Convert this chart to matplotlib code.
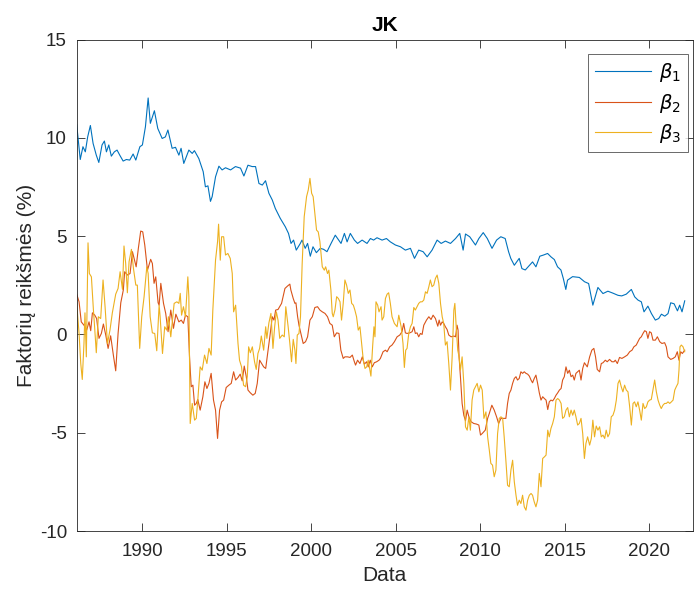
import numpy as np
import matplotlib
import matplotlib.pyplot as plt

matplotlib.use("Agg")

# beta_1
b1_t = [1986.11, 1986.32, 1986.48, 1986.62, 1986.76, 1986.92, 1987.08, 1987.27, 1987.42, 1987.61,
        1987.75, 1987.87, 1988.01, 1988.16, 1988.34, 1988.50, 1988.66, 1988.86, 1989.05, 1989.25,
        1989.45, 1989.61, 1989.85, 1990.00, 1990.18, 1990.34, 1990.47, 1990.71, 1990.91, 1991.17,
        1991.36, 1991.51, 1991.76, 1991.96, 1992.16, 1992.29, 1992.45, 1992.75, 1992.95, 1993.08,
        1993.34, 1993.60, 1993.73, 1993.88, 1994.03, 1994.13, 1994.33, 1994.53, 1994.72, 1994.92,
        1995.22, 1995.51, 1995.81, 1996.01, 1996.25, 1996.50, 1996.70, 1996.90, 1997.10, 1997.29,
        1997.49, 1997.69, 1997.87, 1998.16, 1998.46, 1998.65, 1998.80, 1998.95, 1999.11, 1999.35,
        1999.45, 1999.64, 1999.78, 1999.94, 2000.10, 2000.30, 2000.53, 2000.73, 2000.93, 2001.17,
        2001.42, 2001.62, 2001.76, 2001.96, 2002.12, 2002.31, 2002.55, 2002.74, 2003.01, 2003.30,
        2003.50, 2003.69, 2003.89, 2004.19, 2004.45, 2004.68, 2004.98, 2005.28, 2005.57, 2005.87,
        2006.11, 2006.36, 2006.62, 2006.86, 2007.15, 2007.45, 2007.69, 2007.94, 2008.24, 2008.54,
        2008.79, 2008.99, 2009.13, 2009.38, 2009.72, 2009.92, 2010.18, 2010.42, 2010.70, 2010.97,
        2011.22, 2011.48, 2011.68, 2011.81, 2012.02, 2012.31, 2012.47, 2012.67, 2012.89, 2013.10,
        2013.30, 2013.53, 2013.75, 2013.99, 2014.20, 2014.39, 2014.58, 2014.78, 2014.92, 2015.07,
        2015.17, 2015.47, 2015.87, 2016.18, 2016.42, 2016.67, 2016.97, 2017.27, 2017.56, 2017.86,
        2018.16, 2018.38, 2018.65, 2018.95, 2019.15, 2019.34, 2019.54, 2019.70, 2019.93, 2020.14,
        2020.37, 2020.57, 2020.73, 2020.93, 2021.12, 2021.28, 2021.48, 2021.68, 2021.81, 2021.95,
        2022.11]
b1_v = [10.67, 8.90, 9.55, 9.29, 10.05, 10.63, 9.72, 9.12, 8.75, 9.64,
        9.84, 9.29, 9.64, 9.07, 9.29, 9.38, 9.12, 8.82, 8.90, 8.87,
        9.18, 8.87, 9.55, 9.64, 10.57, 12.03, 10.74, 11.38, 10.48, 9.97,
        10.05, 10.40, 9.47, 9.52, 9.12, 9.47, 8.70, 9.38, 9.21, 9.35,
        8.95, 8.28, 7.51, 7.56, 6.77, 7.01, 8.02, 8.56, 8.37, 8.48,
        8.37, 8.54, 8.46, 8.06, 8.61, 8.54, 8.54, 7.68, 7.60, 7.82,
        7.18, 6.84, 6.41, 5.91, 5.48, 5.14, 4.63, 4.80, 4.29, 4.63,
        4.80, 4.38, 4.63, 3.98, 4.46, 4.16, 4.38, 4.33, 4.21, 4.63,
        5.05, 4.80, 4.63, 5.14, 4.71, 5.14, 4.80, 4.63, 4.80, 4.63,
        4.88, 4.80, 4.92, 4.80, 4.88, 4.71, 4.55, 4.46, 4.29, 4.38,
        3.87, 4.29, 4.21, 3.95, 4.29, 4.80, 4.63, 4.75, 4.63, 4.88,
        5.14, 4.29, 5.11, 4.97, 4.55, 4.88, 5.18, 4.88, 4.38, 4.80,
        4.97, 4.88, 4.21, 3.87, 3.52, 3.87, 3.35, 3.28, 3.49, 3.69,
        3.44, 3.98, 4.04, 4.12, 3.94, 3.81, 3.44, 3.28, 2.85, 2.29,
        2.76, 2.94, 2.90, 2.68, 2.59, 1.49, 2.39, 2.08, 2.20, 2.10,
        1.99, 1.96, 2.05, 2.29, 1.91, 1.75, 1.66, 1.15, 1.44, 1.06,
        0.73, 0.81, 1.03, 0.93, 1.06, 1.61, 1.56, 1.20, 1.49, 1.15,
        1.71]

# beta_2
b2_t = [1986.11, 1986.25, 1986.38, 1986.54, 1986.70, 1986.84, 1986.94, 1987.04, 1987.18, 1987.29,
        1987.43, 1987.57, 1987.69, 1987.83, 1987.97, 1988.12, 1988.28, 1988.42, 1988.56, 1988.72,
        1988.87, 1988.95, 1989.11, 1989.27, 1989.41, 1989.51, 1989.63, 1989.76, 1989.90, 1990.02,
        1990.14, 1990.30, 1990.49, 1990.59, 1990.69, 1990.79, 1990.93, 1990.99, 1991.09, 1991.25,
        1991.38, 1991.52, 1991.68, 1991.84, 1991.98, 1992.16, 1992.30, 1992.43, 1992.55, 1992.69,
        1992.79, 1992.89, 1992.99, 1993.09, 1993.19, 1993.28, 1993.42, 1993.58, 1993.70, 1993.82,
        1993.94, 1994.07, 1994.21, 1994.33, 1994.45, 1994.57, 1994.69, 1994.81, 1994.96, 1995.12,
        1995.26, 1995.40, 1995.52, 1995.66, 1995.79, 1995.91, 1996.03, 1996.15, 1996.25, 1996.39,
        1996.54, 1996.68, 1996.80, 1996.94, 1997.06, 1997.18, 1997.30, 1997.43, 1997.57, 1997.69,
        1997.79, 1997.89, 1998.03, 1998.24, 1998.44, 1998.59, 1998.73, 1998.79, 1998.93, 1999.03,
        1999.09, 1999.19, 1999.27, 1999.38, 1999.52, 1999.66, 1999.78, 1999.92, 2000.06, 2000.21,
        2000.37, 2000.51, 2000.65, 2000.81, 2000.96, 2001.10, 2001.24, 2001.36, 2001.50, 2001.64,
        2001.75, 2001.89, 2001.99, 2002.15, 2002.29, 2002.43, 2002.55, 2002.62, 2002.74, 2002.88,
        2003.02, 2003.14, 2003.28, 2003.37, 2003.49, 2003.61, 2003.73, 2003.87, 2004.01, 2004.09,
        2004.25, 2004.39, 2004.49, 2004.64, 2004.78, 2004.92, 2005.08, 2005.24, 2005.37, 2005.47,
        2005.57, 2005.67, 2005.83, 2005.97, 2006.07, 2006.16, 2006.26, 2006.36, 2006.46, 2006.56,
        2006.66, 2006.82, 2006.96, 2007.09, 2007.21, 2007.35, 2007.49, 2007.57, 2007.65, 2007.75,
        2007.84, 2007.94, 2008.04, 2008.14, 2008.28, 2008.44, 2008.54, 2008.63, 2008.69, 2008.75,
        2008.83, 2008.93, 2009.03, 2009.13, 2009.23, 2009.33, 2009.46, 2009.62, 2009.78, 2009.92,
        2010.02, 2010.12, 2010.22, 2010.30, 2010.44, 2010.54, 2010.69, 2010.83, 2010.97, 2011.09,
        2011.23, 2011.37, 2011.52, 2011.62, 2011.72, 2011.82, 2011.92, 2012.02, 2012.12, 2012.21,
        2012.31, 2012.41, 2012.51, 2012.61, 2012.71, 2012.81, 2012.91, 2013.01, 2013.10, 2013.20,
        2013.30, 2013.40, 2013.50, 2013.60, 2013.70, 2013.80, 2013.90, 2014.00, 2014.09, 2014.19,
        2014.29, 2014.39, 2014.49, 2014.59, 2014.69, 2014.79, 2014.88, 2014.98, 2015.08, 2015.18,
        2015.28, 2015.38, 2015.48, 2015.57, 2015.67, 2015.77, 2015.87, 2015.97, 2016.07, 2016.17,
        2016.34, 2016.48, 2016.61, 2016.73, 2016.83, 2016.93, 2017.07, 2017.17, 2017.27, 2017.41,
        2017.52, 2017.66, 2017.80, 2017.92, 2018.00, 2018.12, 2018.25, 2018.39, 2018.55, 2018.71,
        2018.85, 2018.99, 2019.10, 2019.24, 2019.34, 2019.44, 2019.54, 2019.64, 2019.74, 2019.84,
        2019.93, 2020.03, 2020.13, 2020.23, 2020.37, 2020.49, 2020.63, 2020.76, 2020.92, 2021.02,
        2021.12, 2021.28, 2021.42, 2021.55, 2021.67, 2021.77, 2021.87, 2021.97, 2022.11]
b2_v = [2.05, 1.66, 0.64, 0.47, 0.22, 0.64, 0.19, 1.10, 0.98, 0.81,
        -0.20, 0.05, 0.53, -0.03, -0.71, -0.07, -1.05, -1.85, 0.05, 1.61,
        2.26, 3.19, 3.02, 3.10, 4.21, 3.87, 3.44, 4.38, 5.26, 5.22,
        4.55, 3.27, 3.82, 3.61, 2.60, 2.93, 1.61, 1.49, 2.60, 1.58,
        1.07, 0.14, 1.24, 0.31, 1.03, 0.64, 0.73, 0.56, 0.98, 0.90,
        -1.14, -2.66, -2.58, -3.60, -3.51, -3.31, -3.85, -3.17, -2.41, -2.75,
        -2.49, -1.98, -3.34, -3.85, -5.29, -3.85, -3.43, -3.34, -2.70, -2.58,
        -2.49, -1.90, -2.32, -2.19, -2.02, -2.36, -1.61, -2.15, -2.83, -2.97,
        -3.09, -3.00, -2.49, -1.31, -1.48, -1.65, -1.73, -0.88, 0.05, 0.90,
        0.73, 1.24, 1.27, 1.58, 2.34, 2.46, 2.56, 2.26, 1.83, 1.58,
        1.61, 0.90, 0.47, 0.05, -0.46, -0.37, -0.12, 0.73, 0.90, 1.37,
        1.41, 1.24, 1.15, 1.07, 0.90, 0.56, 0.47, -0.12, 0.08, 0.05,
        -0.80, -1.22, -1.14, -1.14, -1.17, -1.05, -1.39, -1.56, -1.31, -1.48,
        -1.14, -1.51, -1.39, -1.65, -1.31, -1.65, -1.44, -1.39, -1.31, -1.22,
        -0.88, -0.80, -0.88, -0.63, -0.54, -0.37, -0.12, -0.03, 0.14, 0.56,
        0.08, 0.05, 0.08, 0.14, 0.39, 0.05, 0.08, -0.12, 0.05, 0.00,
        0.47, 0.73, 0.90, 0.76, 0.98, 0.81, 0.42, 0.73, 0.47, 0.64,
        0.56, 0.39, 0.25, -0.03, -0.12, -0.08, -0.12, 0.47, 0.22, -1.14,
        -2.15, -3.51, -4.11, -4.39, -3.85, -4.19, -4.44, -4.53, -4.56, -4.61,
        -5.12, -5.04, -4.95, -4.87, -4.27, -4.02, -3.60, -3.85, -4.19, -4.53,
        -4.27, -4.27, -4.27, -3.51, -3.00, -2.83, -2.49, -2.24, -2.15, -2.32,
        -2.24, -1.90, -1.98, -1.90, -1.98, -2.02, -2.12, -2.32, -2.46, -2.24,
        -2.07, -2.49, -2.97, -3.34, -3.17, -3.26, -3.34, -3.82, -3.43, -3.34,
        -3.38, -3.26, -3.09, -2.97, -2.83, -2.75, -2.32, -2.15, -1.65, -1.98,
        -1.82, -2.15, -2.07, -2.32, -1.98, -1.90, -1.82, -2.32, -1.73, -1.44,
        -1.65, -1.14, -0.80, -0.71, -1.14, -1.78, -1.90, -1.48, -1.44, -1.31,
        -1.39, -1.27, -1.39, -1.39, -1.31, -1.48, -1.17, -1.22, -1.14, -1.05,
        -0.88, -0.80, -0.63, -0.54, -0.37, -0.20, -0.12, 0.05, 0.19, 0.14,
        -0.20, 0.14, 0.08, -0.29, -0.29, -0.12, -0.37, -0.46, -0.42, -0.63,
        -1.14, -1.27, -1.22, -1.14, -0.88, -1.31, -0.88, -0.97, -0.80]

# beta_3
b3_t = [1986.11, 1986.25, 1986.35, 1986.44, 1986.54, 1986.60, 1986.68, 1986.78, 1986.86, 1986.98,
        1987.10, 1987.17, 1987.27, 1987.39, 1987.53, 1987.67, 1987.79, 1987.93, 1988.08, 1988.22,
        1988.42, 1988.56, 1988.68, 1988.82, 1988.91, 1989.01, 1989.11, 1989.21, 1989.35, 1989.47,
        1989.61, 1989.70, 1989.84, 1989.96, 1990.10, 1990.26, 1990.34, 1990.46, 1990.59, 1990.73,
        1990.85, 1990.99, 1991.05, 1991.19, 1991.32, 1991.44, 1991.54, 1991.68, 1991.80, 1991.88,
        1992.04, 1992.16, 1992.24, 1992.32, 1992.43, 1992.55, 1992.69, 1992.75, 1992.83, 1992.95,
        1993.09, 1993.19, 1993.28, 1993.42, 1993.54, 1993.68, 1993.82, 1993.94, 1994.07, 1994.17,
        1994.33, 1994.45, 1994.51, 1994.61, 1994.69, 1994.81, 1994.92, 1995.06, 1995.20, 1995.32,
        1995.40, 1995.52, 1995.66, 1995.75, 1995.87, 1995.99, 1996.11, 1996.21, 1996.29, 1996.39,
        1996.51, 1996.64, 1996.74, 1996.84, 1996.94, 1997.04, 1997.18, 1997.30, 1997.37, 1997.49,
        1997.61, 1997.73, 1997.83, 1997.93, 1998.03, 1998.13, 1998.28, 1998.40, 1998.49, 1998.63,
        1998.73, 1998.83, 1998.93, 1999.03, 1999.09, 1999.17, 1999.27, 1999.36, 1999.46, 1999.58,
        1999.72, 1999.82, 1999.92, 2000.02, 2000.11, 2000.21, 2000.31, 2000.41, 2000.51, 2000.65,
        2000.77, 2000.85, 2000.96, 2001.04, 2001.16, 2001.24, 2001.30, 2001.40, 2001.50, 2001.60,
        2001.70, 2001.79, 2001.89, 2001.99, 2002.09, 2002.19, 2002.29, 2002.39, 2002.49, 2002.58,
        2002.68, 2002.78, 2002.88, 2002.98, 2003.08, 2003.18, 2003.28, 2003.37, 2003.47, 2003.53,
        2003.63, 2003.71, 2003.77, 2003.83, 2003.93, 2004.01, 2004.13, 2004.19, 2004.29, 2004.39,
        2004.49, 2004.58, 2004.68, 2004.78, 2004.92, 2005.08, 2005.18, 2005.32, 2005.43, 2005.51,
        2005.59, 2005.67, 2005.77, 2005.87, 2005.97, 2006.07, 2006.16, 2006.26, 2006.36, 2006.46,
        2006.56, 2006.66, 2006.76, 2006.86, 2006.96, 2007.05, 2007.15, 2007.25, 2007.35, 2007.45,
        2007.55, 2007.65, 2007.75, 2007.84, 2007.94, 2008.04, 2008.14, 2008.24, 2008.34, 2008.44,
        2008.50, 2008.58, 2008.67, 2008.75, 2008.83, 2008.93, 2009.03, 2009.13, 2009.23, 2009.33,
        2009.42, 2009.52, 2009.62, 2009.72, 2009.82, 2009.92, 2010.02, 2010.12, 2010.22, 2010.34,
        2010.44, 2010.54, 2010.63, 2010.73, 2010.83, 2010.93, 2011.03, 2011.13, 2011.23, 2011.33,
        2011.42, 2011.52, 2011.62, 2011.72, 2011.82, 2011.92, 2012.02, 2012.12, 2012.21, 2012.31,
        2012.41, 2012.51, 2012.61, 2012.71, 2012.81, 2012.91, 2013.01, 2013.10, 2013.20, 2013.30,
        2013.40, 2013.50, 2013.60, 2013.70, 2013.80, 2013.90, 2014.00, 2014.09, 2014.19, 2014.29,
        2014.39, 2014.49, 2014.59, 2014.69, 2014.79, 2014.88, 2014.98, 2015.08, 2015.18, 2015.28,
        2015.38, 2015.48, 2015.57, 2015.67, 2015.77, 2015.87, 2015.97, 2016.07, 2016.17, 2016.26,
        2016.36, 2016.48, 2016.58, 2016.67, 2016.77, 2016.87, 2016.97, 2017.07, 2017.17, 2017.27,
        2017.37, 2017.46, 2017.56, 2017.66, 2017.76, 2017.86, 2017.96, 2018.06, 2018.16, 2018.25,
        2018.35, 2018.45, 2018.55, 2018.65, 2018.75, 2018.85, 2018.95, 2019.05, 2019.14, 2019.24,
        2019.34, 2019.44, 2019.54, 2019.64, 2019.74, 2019.84, 2019.93, 2020.03, 2020.13, 2020.23,
        2020.33, 2020.43, 2020.53, 2020.63, 2020.72, 2020.82, 2020.92, 2021.02, 2021.12, 2021.22,
        2021.32, 2021.42, 2021.52, 2021.61, 2021.71, 2021.77, 2021.83, 2021.91, 2022.01, 2022.11]
b3_v = [1.58, 0.05, -1.48, -2.29, -0.46, 1.10, -1.14, 4.66, 3.10, 2.93,
        1.24, 0.39, -0.93, 0.90, 0.81, 2.77, 1.41, -0.46, 0.22, 1.10,
        2.05, 2.34, 3.19, 2.29, 4.50, 3.61, 2.12, 3.70, 4.33, 3.36,
        2.51, 2.51, -0.71, 0.90, 1.92, 3.44, 3.10, 0.90, 0.08, 0.05,
        -0.83, 1.49, 0.90, -0.97, 0.39, 0.22, 0.90, -0.12, 0.90, 1.58,
        1.66, 1.58, 2.09, 0.98, 1.41, 0.90, 2.93, 1.92, -4.53, -3.51,
        -4.36, -4.27, -3.34, -1.65, -1.82, -1.05, -1.48, -0.71, -1.05, 1.24,
        3.78, 4.72, 5.61, 3.78, 4.97, 4.97, 4.04, 4.12, 3.87, 3.10,
        1.15, 1.49, -0.46, -1.31, -1.65, -2.58, -2.66, -2.15, -0.63, -0.93,
        -0.63, -1.39, -1.78, -0.97, -0.71, -0.08, -0.80, 0.39, -0.20, 0.59,
        1.07, -0.71, 0.39, 1.15, 0.73, -0.20, -0.03, -0.12, 1.41, 0.39,
        -0.46, -1.39, -0.25, -0.80, -1.48, -0.03, 0.05, 0.90, 3.61, 5.99,
        7.01, 7.35, 7.94, 7.18, 7.01, 6.16, 5.31, 5.22, 4.72, 3.44,
        3.27, 3.44, 3.10, 3.27, 2.26, 1.07, 0.90, 1.24, 1.92, 1.83,
        1.66, 0.73, 1.58, 2.77, 2.51, 2.09, 2.26, 1.58, 1.49, 1.24,
        0.90, 0.22, 0.39, -0.46, -1.31, -1.73, -1.65, -1.31, -1.82, -2.12,
        -0.63, 0.39, -0.12, 1.66, 1.49, 1.15, 1.41, 0.73, 0.90, 1.83,
        2.05, 2.12, 1.58, 0.90, 0.56, 0.39, 0.98, 0.39, -0.46, -1.68,
        -0.80, -0.71, 0.05, 0.39, 0.56, 1.37, 1.24, 1.41, 1.58, 1.66,
        1.66, 1.75, 2.17, 2.09, 2.43, 2.77, 2.43, 2.51, 2.85, 3.02,
        2.60, 1.58, 0.90, 0.56, -0.54, -0.37, -1.48, -2.83, -1.14, 1.24,
        1.58, 0.39, -0.80, -1.14, -1.82, -1.14, -2.49, -4.70, -4.87, -4.19,
        -4.87, -3.34, -2.83, -2.66, -2.49, -2.92, -2.58, -2.83, -4.27, -3.94,
        -5.21, -5.89, -6.56, -6.65, -7.24, -6.90, -5.04, -4.27, -4.19, -4.27,
        -5.21, -6.40, -7.67, -7.75, -6.90, -6.40, -7.50, -8.18, -8.69, -8.43,
        -8.60, -8.18, -8.77, -8.94, -8.43, -8.18, -8.09, -8.18, -8.52, -8.77,
        -8.43, -7.07, -7.75, -6.31, -6.23, -6.14, -4.87, -5.21, -4.78, -4.53,
        -4.19, -3.34, -3.26, -3.34, -3.51, -4.27, -4.19, -3.85, -3.72, -4.19,
        -3.85, -4.11, -3.85, -4.19, -4.61, -4.53, -4.27, -5.04, -6.31, -5.55,
        -5.21, -5.63, -5.29, -4.36, -5.21, -4.66, -4.87, -4.70, -5.21, -5.12,
        -5.29, -4.87, -5.21, -5.04, -4.19, -4.11, -3.85, -3.34, -2.49, -2.32,
        -2.66, -2.92, -2.58, -2.83, -2.92, -3.68, -4.61, -3.51, -3.43, -3.68,
        -3.43, -3.85, -4.36, -3.51, -3.77, -3.68, -3.43, -3.34, -3.31, -2.83,
        -2.32, -2.92, -3.34, -3.60, -3.77, -3.60, -3.51, -3.51, -3.43, -3.51,
        -3.43, -3.34, -2.83, -2.66, -2.49, -1.82, -0.63, -0.54, -0.63, -0.88]

year_ticks = [1990, 1995, 2000, 2005, 2010, 2015, 2020]
y_ticks = [-10, -5, 0, 5, 10, 15]
labels = [r'$\beta_1$', r'$\beta_2$', r'$\beta_3$']
colors = ['#0072BD', '#D95319', '#EDB120']

plt.rcParams['font.family'] = ['Liberation Sans', 'DejaVu Sans']
plt.rcParams['axes.unicode_minus'] = False
dark = '#262626'

fig = plt.figure(figsize=(6.94, 5.92), dpi=100)
ax = fig.add_axes([76.7 / 694, 1 - 531 / 592, (693 - 76.7) / 694, (531 - 39.6) / 592])

for t, v, lab, c in zip([b1_t, b2_t, b3_t], [b1_v, b2_v, b3_v], labels, colors):
    ax.plot(t, v, color=c, lw=0.8, label=lab)

ax.set_xlim(1986.11, 2022.6)
ax.set_ylim(-10, 15)
ax.set_xticks(year_ticks)
ax.set_yticks(y_ticks)
ax.tick_params(direction='in', length=6, width=0.6, color=dark, labelcolor=dark,
               labelsize=13.5, top=True, right=True)
ax.tick_params(axis='x', pad=9)
ax.tick_params(axis='y', pad=7)
for s in ax.spines.values():
    s.set_color(dark)
    s.set_linewidth(0.6)

ax.set_xlabel('Data', fontsize=15, color=dark, labelpad=4)
ax.set_ylabel('Faktorių reikšmės (%)', fontsize=15, color=dark, labelpad=2.5)
ax.set_title('JK', fontsize=15, fontweight='bold', color='black', pad=6)

leg = ax.legend(loc='upper right', bbox_to_anchor=(0.9914, 0.970), borderaxespad=0,
                fontsize=14, frameon=True, fancybox=False, handlelength=2.9,
                labelspacing=0.38, borderpad=0.35, handletextpad=0.4)
leg.get_frame().set_edgecolor(dark)
leg.get_frame().set_linewidth(0.6)

fig.savefig('out.png', dpi=100)
